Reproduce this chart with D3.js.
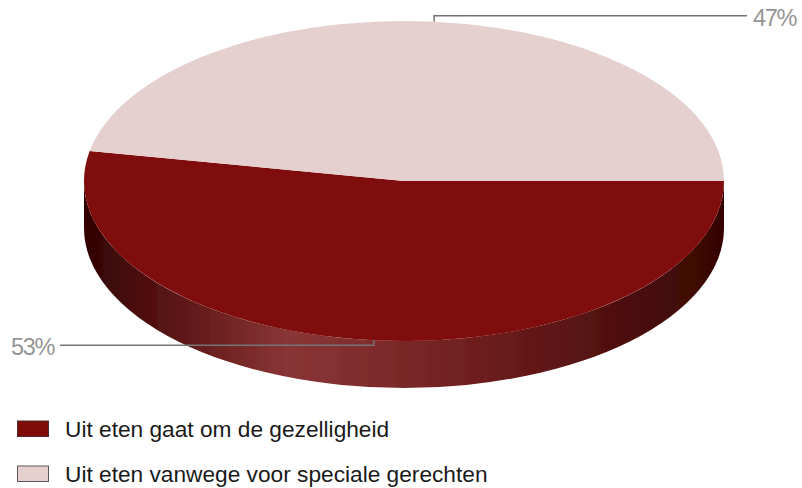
<!DOCTYPE html>
<html><head><meta charset="utf-8">
<script src="https://cdn.jsdelivr.net/npm/d3@7/dist/d3.min.js"></script>
<style>html,body{margin:0;padding:0;background:#fff}svg{display:block}text{font-family:"Liberation Sans",Arial,sans-serif}</style>
</head><body><svg id="c" width="802" height="488"></svg>
<script>
const categories = ["Uit eten gaat om de gezelligheid", "Uit eten vanwege voor speciale gerechten"];
const values = [53, 47];
const labels = ["53%", "47%"];
const colors = ["#800c09", "#e6cfcf"];
const swatchStroke = ["#4a2a2a", "#5e5656"];

const cx = 404, cy = 181, rx = 320, ry = 160, depth = 47;
const svg = d3.select("#c");
const defs = svg.append("defs");
const grad = defs.append("linearGradient").attr("id", "wall")
  .attr("gradientUnits", "userSpaceOnUse")
  .attr("x1", cx - rx).attr("x2", cx + rx).attr("y1", 0).attr("y2", 0);
[[0, "#300404"], [0.07, "#470a0a"], [0.2, "#6b2020"], [0.32, "#8a3535"], [0.45, "#7f2c2c"],
 [0.6, "#701f1f"], [0.75, "#5c1515"], [0.86, "#4a0e0c"], [0.95, "#3f0705"], [1, "#340604"]]
  .forEach(s => grad.append("stop").attr("offset", s[0]).attr("stop-color", s[1]));
defs.append("filter").attr("id", "soft").append("feGaussianBlur").attr("stdDeviation", 0.6);

const wallD = `M${cx - rx},${cy} A${rx},${ry} 0 0 0 ${cx + rx},${cy} L${cx + rx},${cy + depth} A${rx},${ry} 0 0 1 ${cx - rx},${cy + depth} Z`;
svg.append("path").attr("d", wallD).attr("fill", "url(#wall)").attr("filter", "url(#soft)");

// d3 pie angles run clockwise from 12 o'clock; the first slice starts at 3 o'clock
const pie = d3.pie().sort(null).value(d => d).startAngle(Math.PI / 2).endAngle(Math.PI / 2 + 2 * Math.PI);
const arcs = pie(values);
const arc = d3.arc().innerRadius(0).outerRadius(rx);
const face = svg.append("g").attr("transform", `translate(${cx},${cy}) scale(1,${ry / rx})`).attr("filter", "url(#soft)");
face.selectAll("path").data(arcs).join("path").attr("d", arc).attr("fill", (d, i) => colors[i]);

// leader lines start at each slice's outer mid point
const rimPoint = d => {
  const a = (d.startAngle + d.endAngle) / 2;
  return [cx + rx * Math.sin(a), cy - ry * Math.cos(a)];
};
const leaderCfg = [
  { dy: 5, endX: 60, tx: 11, ty: 355 },
  { dy: -6, endX: 747, tx: 753, ty: 26 }
];
arcs.forEach((d, i) => {
  const p = rimPoint(d), c = leaderCfg[i], y = p[1] + c.dy;
  svg.append("path").attr("d", d3.line()([[p[0], p[1]], [p[0], y], [c.endX, y]]))
    .attr("fill", "none").attr("stroke", "#747474").attr("stroke-width", 1.5);
  svg.append("text").attr("x", c.tx).attr("y", c.ty)
    .attr("font-size", 23.5).attr("letter-spacing", -1.3).attr("fill", "#959595").text(labels[i]);
});

// legend
const legendY = d3.scalePoint().domain(d3.range(categories.length)).range([429, 474]);
const lg = svg.append("g").selectAll("g").data(categories).join("g")
  .attr("transform", (d, i) => `translate(0,${legendY(i)})`);
lg.append("rect").attr("x", 17.5).attr("y", -8).attr("width", 31).attr("height", 15.5)
  .attr("fill", (d, i) => colors[i]).attr("stroke", (d, i) => swatchStroke[i]).attr("stroke-width", 1);
lg.append("text").attr("x", 65).attr("y", 8).attr("font-size", 22.7).attr("fill", "#1a1a1a").text(d => d);
</script></body></html>
